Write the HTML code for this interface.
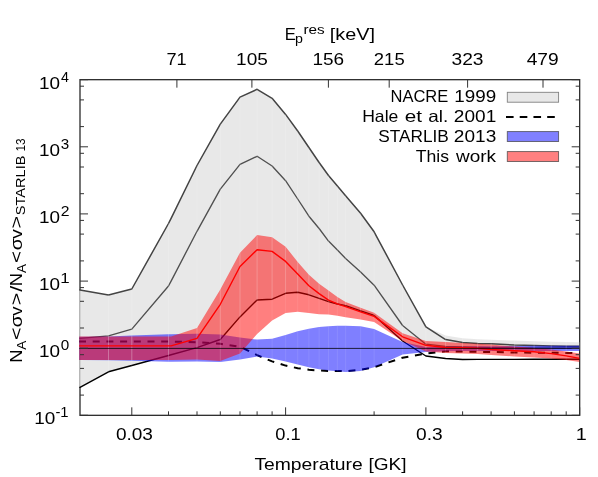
<!DOCTYPE html>
<html><head><meta charset="utf-8"><title>plot</title>
<style>
html,body{margin:0;padding:0;background:#fff;}
svg{display:block;will-change:transform;}
text{font-family:"Liberation Sans",sans-serif;fill:#000;}
</style></head><body>
<svg width="598" height="477" viewBox="0 0 598 477">
<rect x="0" y="0" width="598" height="477" fill="#ffffff"/>
<defs><clipPath id="cp"><rect x="79.3" y="79.67" width="500.09999999999997" height="335.65999999999997"/></clipPath></defs>
<rect x="80.0" y="79.67" width="499.66999999999996" height="335.65999999999997" fill="none" stroke="#303030" stroke-width="1.33"/>
<g clip-path="url(#cp)">
<polygon points="79.0,290.1 80.0,290.1 108.5,295.1 131.8,289.0 168.5,223.5 171.1,218.3 197.0,165.5 220.3,124.1 240.0,97.1 257.1,89.3 272.1,98.3 285.6,114.4 297.7,131.0 308.9,147.5 319.1,162.5 328.5,175.5 337.4,186.1 345.6,195.8 360.6,213.2 374.1,231.8 402.6,285.0 425.9,326.8 445.6,335.5 462.6,338.3 477.7,339.3 491.1,339.8 514.4,340.6 534.1,341.2 551.2,341.7 566.2,342.0 579.7,342.3 579.7,349.5 566.2,349.5 551.2,349.5 534.1,349.5 514.4,349.5 491.1,349.5 477.7,349.5 462.6,349.5 445.6,349.5 425.9,349.5 402.6,341.0 374.1,315.4 360.6,310.8 345.6,305.6 337.4,304.0 328.5,301.6 319.1,298.4 308.9,294.8 297.7,292.3 285.6,293.3 272.1,299.2 257.1,300.0 240.0,316.9 220.3,339.5 197.0,347.6 171.1,354.8 168.5,355.5 131.8,365.5 108.5,371.8 80.0,387.4 79.0,387.4" fill="#e4e4e4" fill-opacity="0.85"/>
<polyline points="79.0,290.1 80.0,290.1 108.5,295.1 131.8,289.0 168.5,223.5 171.1,218.3 197.0,165.5 220.3,124.1 240.0,97.1 257.1,89.3 272.1,98.3 285.6,114.4 297.7,131.0 308.9,147.5 319.1,162.5 328.5,175.5 337.4,186.1 345.6,195.8 360.6,213.2 374.1,231.8 402.6,285.0 425.9,326.8 445.6,339.6 462.6,342.5 477.7,343.6 491.1,343.7 514.4,345.0 534.1,345.6 551.2,346.0 566.2,346.2 579.7,346.3" fill="none" stroke="#444" stroke-width="1.5" stroke-linejoin="round"/>
<polyline points="79.0,338.4 80.0,338.4 108.5,335.8 131.8,329.1 168.5,286.0 171.1,281.1 197.0,231.3 220.3,189.2 240.0,164.4 257.1,156.3 272.1,166.0 285.6,180.7 297.7,199.0 308.9,216.2 319.1,228.5 328.5,241.1 337.4,250.0 345.6,258.5 360.6,272.0 374.1,285.2 402.6,325.5 425.9,344.2 445.6,346.4 462.6,347.0 477.7,347.4 491.1,347.6 514.4,347.9 534.1,348.0 551.2,348.0 566.2,348.0 579.7,348.0" fill="none" stroke="#505050" stroke-width="1.35" stroke-linejoin="round"/>
<polyline points="79.0,387.4 80.0,387.4 108.5,371.8 131.8,365.5 168.5,355.5 171.1,354.8 197.0,347.6 220.3,339.5 240.0,316.9 257.1,300.0 272.1,299.2 285.6,293.3 297.7,292.3 308.9,294.8 319.1,298.4 328.5,301.6 337.4,304.0 345.6,305.6 360.6,310.8 374.1,315.4 402.6,341.0 425.9,356.0 445.6,358.5 462.6,359.5 477.7,359.4 491.1,359.4 514.4,359.4 534.1,359.3 551.2,359.3 566.2,359.3 579.7,359.3" fill="none" stroke="#000" stroke-width="1.4" stroke-linejoin="round"/>
<polyline points="79.0,341.6 80.0,341.6 108.5,341.6 131.8,341.6 168.5,341.6 171.1,341.6 197.0,342.2 220.3,343.8 240.0,346.8 257.1,355.1 272.1,361.4 285.6,365.6 297.7,368.2 308.9,369.7 319.1,370.5 328.5,370.9 337.4,371.0 345.6,371.2 360.6,369.8 374.1,367.2 402.6,357.7 425.9,353.6 445.6,351.3 462.6,351.5 477.7,351.8 491.1,352.0 514.4,352.5 534.1,352.7 551.2,352.8 566.2,352.9 579.7,353.0" fill="none" stroke="#000" stroke-width="2" stroke-dasharray="7.0,6.7" stroke-dashoffset="0.0"/>
<polygon points="79.0,336.8 80.0,336.8 108.5,336.5 131.8,335.6 168.5,334.3 171.1,334.3 197.0,333.8 220.3,334.5 240.0,337.6 257.1,339.6 272.1,338.8 285.6,335.1 297.7,331.2 308.9,328.7 319.1,327.0 328.5,326.2 337.4,325.7 345.6,325.7 360.6,326.2 374.1,329.0 402.6,342.0 425.9,347.0 445.6,346.5 462.6,346.4 477.7,346.3 491.1,346.3 514.4,345.9 534.1,345.8 551.2,345.8 566.2,345.8 579.7,345.8 579.7,351.0 566.2,351.0 551.2,351.0 534.1,351.0 514.4,351.0 491.1,350.9 477.7,350.9 462.6,351.0 445.6,351.3 425.9,352.0 402.6,354.5 374.1,367.3 360.6,371.0 345.6,371.9 337.4,371.3 328.5,370.6 319.1,369.3 308.9,367.3 297.7,364.6 285.6,361.6 272.1,358.6 257.1,356.6 240.0,359.6 220.3,361.9 197.0,361.5 171.1,361.8 168.5,361.8 131.8,360.8 108.5,360.2 80.0,359.9 79.0,359.9" fill="#0000ff" fill-opacity="0.5"/>
<polygon points="79.0,336.6 80.0,336.6 108.5,336.6 131.8,336.6 168.5,336.4 171.1,336.5 197.0,327.9 220.3,289.6 240.0,252.7 257.1,235.1 272.1,237.3 285.6,246.8 297.7,261.9 308.9,274.8 319.1,283.7 328.5,290.4 337.4,297.1 345.6,301.9 360.6,307.7 374.1,312.7 402.6,333.3 425.9,341.0 445.6,342.0 462.6,343.0 477.7,343.8 491.1,344.6 514.4,346.5 534.1,348.0 551.2,349.5 566.2,351.5 579.7,353.6 579.7,361.9 566.2,360.0 551.2,358.5 534.1,357.5 514.4,356.5 491.1,355.1 477.7,353.9 462.6,353.5 445.6,353.0 425.9,351.5 402.6,341.0 374.1,321.9 360.6,319.4 345.6,317.2 337.4,315.8 328.5,314.6 319.1,314.2 308.9,313.0 297.7,311.7 285.6,313.0 272.1,320.6 257.1,334.0 240.0,353.6 220.3,361.0 197.0,359.5 171.1,360.0 168.5,360.0 131.8,360.0 108.5,360.0 80.0,360.0 79.0,360.0" fill="#ff0000" fill-opacity="0.5"/>
<clipPath id="cg"><polygon points="79.0,290.1 80.0,290.1 108.5,295.1 131.8,289.0 168.5,223.5 171.1,218.3 197.0,165.5 220.3,124.1 240.0,97.1 257.1,89.3 272.1,98.3 285.6,114.4 297.7,131.0 308.9,147.5 319.1,162.5 328.5,175.5 337.4,186.1 345.6,195.8 360.6,213.2 374.1,231.8 402.6,285.0 425.9,326.8 445.6,335.5 462.6,338.3 477.7,339.3 491.1,339.8 514.4,340.6 534.1,341.2 551.2,341.7 566.2,342.0 579.7,342.3 579.7,349.5 566.2,349.5 551.2,349.5 534.1,349.5 514.4,349.5 491.1,349.5 477.7,349.5 462.6,349.5 445.6,349.5 425.9,349.5 402.6,341.0 374.1,315.4 360.6,310.8 345.6,305.6 337.4,304.0 328.5,301.6 319.1,298.4 308.9,294.8 297.7,292.3 285.6,293.3 272.1,299.2 257.1,300.0 240.0,316.9 220.3,339.5 197.0,347.6 171.1,354.8 168.5,355.5 131.8,365.5 108.5,371.8 80.0,387.4 79.0,387.4"/></clipPath>
<clipPath id="cb"><polygon points="79.0,336.8 80.0,336.8 108.5,336.5 131.8,335.6 168.5,334.3 171.1,334.3 197.0,333.8 220.3,334.5 240.0,337.6 257.1,339.6 272.1,338.8 285.6,335.1 297.7,331.2 308.9,328.7 319.1,327.0 328.5,326.2 337.4,325.7 345.6,325.7 360.6,326.2 374.1,329.0 402.6,342.0 425.9,347.0 445.6,346.5 462.6,346.4 477.7,346.3 491.1,346.3 514.4,345.9 534.1,345.8 551.2,345.8 566.2,345.8 579.7,345.8 579.7,351.0 566.2,351.0 551.2,351.0 534.1,351.0 514.4,351.0 491.1,350.9 477.7,350.9 462.6,351.0 445.6,351.3 425.9,352.0 402.6,354.5 374.1,367.3 360.6,371.0 345.6,371.9 337.4,371.3 328.5,370.6 319.1,369.3 308.9,367.3 297.7,364.6 285.6,361.6 272.1,358.6 257.1,356.6 240.0,359.6 220.3,361.9 197.0,361.5 171.1,361.8 168.5,361.8 131.8,360.8 108.5,360.2 80.0,359.9 79.0,359.9"/></clipPath>
<clipPath id="cr"><polygon points="79.0,336.6 80.0,336.6 108.5,336.6 131.8,336.6 168.5,336.4 171.1,336.5 197.0,327.9 220.3,289.6 240.0,252.7 257.1,235.1 272.1,237.3 285.6,246.8 297.7,261.9 308.9,274.8 319.1,283.7 328.5,290.4 337.4,297.1 345.6,301.9 360.6,307.7 374.1,312.7 402.6,333.3 425.9,341.0 445.6,342.0 462.6,343.0 477.7,343.8 491.1,344.6 514.4,346.5 534.1,348.0 551.2,349.5 566.2,351.5 579.7,353.6 579.7,361.9 566.2,360.0 551.2,358.5 534.1,357.5 514.4,356.5 491.1,355.1 477.7,353.9 462.6,353.5 445.6,353.0 425.9,351.5 402.6,341.0 374.1,321.9 360.6,319.4 345.6,317.2 337.4,315.8 328.5,314.6 319.1,314.2 308.9,313.0 297.7,311.7 285.6,313.0 272.1,320.6 257.1,334.0 240.0,353.6 220.3,361.0 197.0,359.5 171.1,360.0 168.5,360.0 131.8,360.0 108.5,360.0 80.0,360.0 79.0,360.0"/></clipPath>
<path d="M108.5,79.67V415.33 M131.8,79.67V415.33 M168.5,79.67V415.33 M197.0,79.67V415.33 M220.3,79.67V415.33 M240.0,79.67V415.33 M257.1,79.67V415.33 M272.1,79.67V415.33 M285.6,79.67V415.33 M297.7,79.67V415.33 M308.9,79.67V415.33 M319.1,79.67V415.33 M328.5,79.67V415.33 M337.4,79.67V415.33 M345.6,79.67V415.33 M360.6,79.67V415.33 M374.1,79.67V415.33 M402.6,79.67V415.33 M425.9,79.67V415.33 M445.6,79.67V415.33 M462.6,79.67V415.33 M477.7,79.67V415.33 M491.1,79.67V415.33 M514.4,79.67V415.33 M534.1,79.67V415.33 M551.2,79.67V415.33 M566.2,79.67V415.33" stroke="#fff" stroke-opacity="0.2" stroke-width="0.8" fill="none" clip-path="url(#cg)"/>
<path d="M108.5,79.67V415.33 M131.8,79.67V415.33 M168.5,79.67V415.33 M197.0,79.67V415.33 M220.3,79.67V415.33 M240.0,79.67V415.33 M257.1,79.67V415.33 M272.1,79.67V415.33 M285.6,79.67V415.33 M297.7,79.67V415.33 M308.9,79.67V415.33 M319.1,79.67V415.33 M328.5,79.67V415.33 M337.4,79.67V415.33 M345.6,79.67V415.33 M360.6,79.67V415.33 M374.1,79.67V415.33 M402.6,79.67V415.33 M425.9,79.67V415.33 M445.6,79.67V415.33 M462.6,79.67V415.33 M477.7,79.67V415.33 M491.1,79.67V415.33 M514.4,79.67V415.33 M534.1,79.67V415.33 M551.2,79.67V415.33 M566.2,79.67V415.33" stroke="#fff" stroke-opacity="0.12" stroke-width="0.8" fill="none" clip-path="url(#cb)"/>
<path d="M108.5,79.67V415.33 M131.8,79.67V415.33 M168.5,79.67V415.33 M197.0,79.67V415.33 M220.3,79.67V415.33 M240.0,79.67V415.33 M257.1,79.67V415.33 M272.1,79.67V415.33 M285.6,79.67V415.33 M297.7,79.67V415.33 M308.9,79.67V415.33 M319.1,79.67V415.33 M328.5,79.67V415.33 M337.4,79.67V415.33 M345.6,79.67V415.33 M360.6,79.67V415.33 M374.1,79.67V415.33 M402.6,79.67V415.33 M425.9,79.67V415.33 M445.6,79.67V415.33 M462.6,79.67V415.33 M477.7,79.67V415.33 M491.1,79.67V415.33 M514.4,79.67V415.33 M534.1,79.67V415.33 M551.2,79.67V415.33 M566.2,79.67V415.33" stroke="#fff" stroke-opacity="0.1" stroke-width="0.8" fill="none" clip-path="url(#cr)"/>
<polyline points="79.0,345.9 80.0,345.9 108.5,345.9 131.8,345.9 168.5,345.9 171.1,345.9 197.0,338.3 220.3,304.3 240.0,266.5 257.1,249.7 272.1,251.4 285.6,261.4 297.7,274.0 308.9,285.8 319.1,293.6 328.5,300.1 337.4,303.8 345.6,306.6 360.6,311.9 374.1,316.4 402.6,336.8 425.9,345.3 445.6,347.5 462.6,347.8 477.7,348.2 491.1,349.5 514.4,350.7 534.1,351.7 551.2,353.6 566.2,355.9 579.7,358.4" fill="none" stroke="#ff0000" stroke-width="1.4" stroke-linejoin="round"/>
<line x1="79.0" y1="348.4" x2="579.67" y2="348.4" stroke="#000" stroke-width="0.85" stroke-opacity="0.92"/>
</g>
<path d="M131.8,415.33v-8 M168.5,415.33v-4 M197.0,415.33v-4 M220.3,415.33v-4 M240.0,415.33v-4 M257.1,415.33v-4 M272.1,415.33v-4 M285.6,415.33v-8 M374.1,415.33v-4 M425.9,415.33v-8 M462.6,415.33v-4 M491.1,415.33v-4 M514.4,415.33v-4 M534.1,415.33v-4 M551.2,415.33v-4 M566.2,415.33v-4 M579.7,415.33v-8 M176.9,79.67v8 M251.9,79.67v8 M328.4,79.67v8 M389.2,79.67v8 M467.6,79.67v8 M543.0,79.67v8 M80.0,415.3h8 M579.67,415.3h-8 M80.0,395.1h4 M579.67,395.1h-4 M80.0,368.4h4 M579.67,368.4h-4 M80.0,354.7h4 M579.67,354.7h-4 M80.0,348.2h8 M579.67,348.2h-8 M80.0,328.0h4 M579.67,328.0h-4 M80.0,301.3h4 M579.67,301.3h-4 M80.0,287.6h4 M579.67,287.6h-4 M80.0,281.1h8 M579.67,281.1h-8 M80.0,260.9h4 M579.67,260.9h-4 M80.0,234.1h4 M579.67,234.1h-4 M80.0,220.4h4 M579.67,220.4h-4 M80.0,213.9h8 M579.67,213.9h-8 M80.0,193.7h4 M579.67,193.7h-4 M80.0,167.0h4 M579.67,167.0h-4 M80.0,153.3h4 M579.67,153.3h-4 M80.0,146.8h8 M579.67,146.8h-8 M80.0,126.6h4 M579.67,126.6h-4 M80.0,99.9h4 M579.67,99.9h-4 M80.0,86.2h4 M579.67,86.2h-4 M80.0,79.7h8 M579.67,79.7h-8" stroke="#333" stroke-width="1.0" fill="none"/>
<rect x="507.3" y="92.3" width="51.3" height="9.9" fill="#e8e8e8" stroke="#808080" stroke-width="0.9"/>
<line x1="506" y1="117" x2="558" y2="117" stroke="#000" stroke-width="2" stroke-dasharray="7.6,6.13"/>
<rect x="507.3" y="131.6" width="51.3" height="9.9" fill="#8080ff" stroke="#5a5a6a" stroke-width="0.9"/>
<rect x="507.3" y="151.6" width="51.3" height="9.9" fill="#ff8080" stroke="#6a5a5a" stroke-width="0.9"/>
<text x="166.49" y="65.1" font-size="16" textLength="20.18" lengthAdjust="spacingAndGlyphs">71</text>
<text x="236.11" y="65.1" font-size="16" textLength="31.71" lengthAdjust="spacingAndGlyphs">105</text>
<text x="312.52" y="65.1" font-size="16" textLength="31.65" lengthAdjust="spacingAndGlyphs">156</text>
<text x="373.85" y="65.1" font-size="16" textLength="30.81" lengthAdjust="spacingAndGlyphs">215</text>
<text x="451.54" y="65.1" font-size="16" textLength="31.96" lengthAdjust="spacingAndGlyphs">323</text>
<text x="526.65" y="65.1" font-size="16" textLength="32.00" lengthAdjust="spacingAndGlyphs">479</text>
<text x="115.90" y="440.4" font-size="16" textLength="37.05" lengthAdjust="spacingAndGlyphs">0.03</text>
<text x="275.25" y="440.4" font-size="16" textLength="25.40" lengthAdjust="spacingAndGlyphs">0.1</text>
<text x="416.04" y="440.4" font-size="16" textLength="26.61" lengthAdjust="spacingAndGlyphs">0.3</text>
<text x="575.86" y="440.4" font-size="16" textLength="11.03" lengthAdjust="spacingAndGlyphs">1</text>
<text x="284.65" y="39.5" font-size="16.8" textLength="11.15" lengthAdjust="spacingAndGlyphs">E</text>
<text x="295.14" y="42.6" font-size="13.6" textLength="7.91" lengthAdjust="spacingAndGlyphs">p</text>
<text x="303.45" y="33.5" font-size="13.6" textLength="21.25" lengthAdjust="spacingAndGlyphs">res</text>
<text x="329.81" y="39.5" font-size="16.8" textLength="45.23" lengthAdjust="spacingAndGlyphs">[keV]</text>
<text x="390.49" y="101.8" font-size="16.5" textLength="57.82" lengthAdjust="spacingAndGlyphs">NACRE</text>
<text x="454.38" y="101.8" font-size="16.3" textLength="41.94" lengthAdjust="spacingAndGlyphs">1999</text>
<text x="362.18" y="121.8" font-size="16.5" textLength="36.13" lengthAdjust="spacingAndGlyphs">Hale</text>
<text x="404.78" y="121.8" font-size="16.5" textLength="17.27" lengthAdjust="spacingAndGlyphs">et</text>
<text x="428.32" y="121.8" font-size="16.5" textLength="19.96" lengthAdjust="spacingAndGlyphs">al.</text>
<text x="453.89" y="121.8" font-size="16.3" textLength="42.36" lengthAdjust="spacingAndGlyphs">2001</text>
<text x="378.25" y="141.8" font-size="16.5" textLength="70.51" lengthAdjust="spacingAndGlyphs">STARLIB</text>
<text x="453.89" y="141.8" font-size="16.3" textLength="42.36" lengthAdjust="spacingAndGlyphs">2013</text>
<text x="415.76" y="161.8" font-size="16.5" textLength="33.28" lengthAdjust="spacingAndGlyphs">This</text>
<text x="455.95" y="161.8" font-size="16.8" textLength="40.05" lengthAdjust="spacingAndGlyphs">work</text>
<text x="254.40" y="469.6" font-size="16.6" textLength="108.35" lengthAdjust="spacingAndGlyphs">Temperature</text>
<text x="368.51" y="469.6" font-size="16.6" textLength="38.13" lengthAdjust="spacingAndGlyphs">[GK]</text>
<text x="34.17" y="423.8" font-size="16.2" textLength="21.10" lengthAdjust="spacingAndGlyphs">10</text>
<text x="55.41" y="417.3" font-size="13.8" textLength="13.19" lengthAdjust="spacingAndGlyphs">-1</text>
<text x="38.95" y="356.8" font-size="16.2" textLength="21.03" lengthAdjust="spacingAndGlyphs">10</text>
<text x="60.74" y="350.3" font-size="13.8" textLength="8.50" lengthAdjust="spacingAndGlyphs">0</text>
<text x="38.95" y="289.7" font-size="16.2" textLength="21.03" lengthAdjust="spacingAndGlyphs">10</text>
<text x="60.16" y="283.2" font-size="13.8" textLength="9.41" lengthAdjust="spacingAndGlyphs">1</text>
<text x="38.95" y="222.6" font-size="16.2" textLength="21.03" lengthAdjust="spacingAndGlyphs">10</text>
<text x="60.73" y="216.1" font-size="13.8" textLength="8.77" lengthAdjust="spacingAndGlyphs">2</text>
<text x="38.95" y="155.6" font-size="16.2" textLength="21.03" lengthAdjust="spacingAndGlyphs">10</text>
<text x="60.76" y="149.1" font-size="13.8" textLength="8.46" lengthAdjust="spacingAndGlyphs">3</text>
<text x="38.95" y="88.5" font-size="16.2" textLength="21.03" lengthAdjust="spacingAndGlyphs">10</text>
<text x="61.03" y="82.0" font-size="13.8" textLength="7.94" lengthAdjust="spacingAndGlyphs">4</text>
<text transform="translate(22.1,361.3) rotate(-90)" x="-1.52" y="0" font-size="16.6" textLength="13.16" lengthAdjust="spacingAndGlyphs">N</text>
<text transform="translate(25.9,349.8) rotate(-90)" x="0.07" y="0" font-size="13.5" textLength="9.07" lengthAdjust="spacingAndGlyphs">A</text>
<text transform="translate(22.1,339.0) rotate(-90)" x="-1.10" y="0" font-size="16.6" textLength="12.61" lengthAdjust="spacingAndGlyphs">&lt;</text>
<text transform="translate(22.1,326.5) rotate(-90)" x="-0.77" y="0" font-size="16.6" textLength="11.97" lengthAdjust="spacingAndGlyphs">σ</text>
<text transform="translate(22.1,315.6) rotate(-90)" x="-0.05" y="0" font-size="16.6" textLength="9.30" lengthAdjust="spacingAndGlyphs">v</text>
<text transform="translate(22.1,304.2) rotate(-90)" x="-1.12" y="0" font-size="16.6" textLength="12.63" lengthAdjust="spacingAndGlyphs">&gt;</text>
<text transform="translate(22.1,291.6) rotate(-90)" x="-0.04" y="0" font-size="16.6" textLength="5.98" lengthAdjust="spacingAndGlyphs">/</text>
<text transform="translate(22.1,284.7) rotate(-90)" x="-1.44" y="0" font-size="16.6" textLength="13.28" lengthAdjust="spacingAndGlyphs">N</text>
<text transform="translate(25.9,272.9) rotate(-90)" x="-0.02" y="0" font-size="13.5" textLength="9.02" lengthAdjust="spacingAndGlyphs">A</text>
<text transform="translate(22.1,262.0) rotate(-90)" x="-1.08" y="0" font-size="16.6" textLength="12.01" lengthAdjust="spacingAndGlyphs">&lt;</text>
<text transform="translate(22.1,249.6) rotate(-90)" x="-0.78" y="0" font-size="16.6" textLength="12.08" lengthAdjust="spacingAndGlyphs">σ</text>
<text transform="translate(22.1,238.6) rotate(-90)" x="-0.04" y="0" font-size="16.6" textLength="9.48" lengthAdjust="spacingAndGlyphs">v</text>
<text transform="translate(22.1,227.3) rotate(-90)" x="-1.11" y="0" font-size="16.6" textLength="12.71" lengthAdjust="spacingAndGlyphs">&gt;</text>
<text transform="translate(25.3,214.4) rotate(-90)" x="-0.80" y="0" font-size="13.3" textLength="59.60" lengthAdjust="spacingAndGlyphs">STARLIB</text>
<text transform="translate(25.3,150.7) rotate(-90)" x="-0.79" y="0" font-size="13.3" textLength="13.13" lengthAdjust="spacingAndGlyphs">13</text>
</svg></body></html>
